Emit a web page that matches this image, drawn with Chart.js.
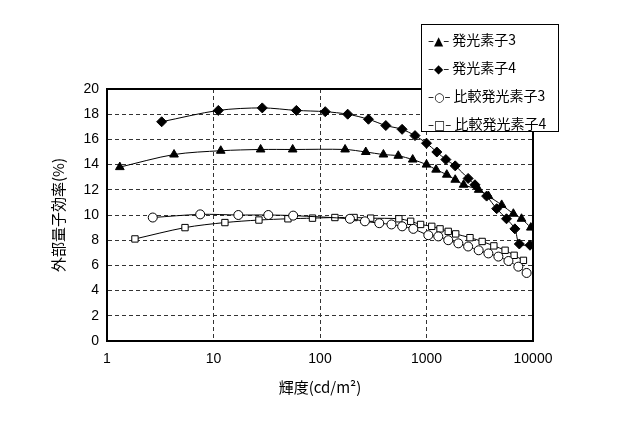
<!DOCTYPE html><html><head><meta charset="utf-8">
<script src="https://cdn.jsdelivr.net/npm/chart.js@4"></script>
<style>body{margin:0;background:#fff}#w{position:relative;width:640px;height:430px}
#lg{position:absolute;left:421px;top:24px;width:138px;height:108px;border:1px solid #000;background:#fff;font:14px "Noto Sans CJK JP";box-sizing:border-box;padding:1px 0 0 6px;line-height:26px;white-space:nowrap}
#lg span{font-family:"DejaVu Sans";font-size:12px}
</style></head><body><div id="w"><canvas id="c" width="640" height="430"></canvas>
<div id="lg"><div><span>–▲–</span> 発光素子3</div><div><span>–◆–</span> 発光素子4</div><div><span>–○–</span> 比較発光素子3</div><div><span>–□–</span> 比較発光素子4</div></div></div>
<script>
const seriesNames=["発光素子3","発光素子4","比較発光素子3","比較発光素子4"];
const x3=[1.32,4.26,11.7,27.7,55.4,172,269,394,543,742,1000,1230,1550,1860,2230,3090,3820,5080,6540,7800,9540];
const y3=[13.8,14.8,15.1,15.2,15.2,15.2,15.0,14.8,14.7,14.4,14.0,13.6,13.2,12.8,12.4,12.0,11.5,10.8,10.1,9.7,9.0];
const x4=[3.26,11.1,28.7,60,112,182,285,415,590,780,1000,1250,1520,1860,2460,2850,3670,4560,5640,6760,7440,9370];
const y4=[17.4,18.3,18.5,18.3,18.2,18.0,17.6,17.1,16.8,16.3,15.7,15.0,14.4,13.9,12.9,12.4,11.5,10.5,9.7,8.9,7.7,7.6];
const xc3=[2.69,7.5,17.1,32.7,56,191,264,360,469,591,752,1040,1290,1600,1990,2460,3090,3810,4730,5880,7280,8710];
const yc3=[9.8,10.05,10.0,10.0,9.95,9.7,9.5,9.35,9.25,9.1,8.9,8.4,8.3,8.0,7.75,7.5,7.2,6.95,6.7,6.35,5.9,5.4];
const xc4=[1.83,5.4,12.8,26.7,50,85,138,209,299,550,710,880,1120,1340,1600,1880,2560,3330,4290,5470,6650,8130];
const yc4=[8.1,9.0,9.4,9.6,9.7,9.75,9.8,9.8,9.75,9.7,9.5,9.25,9.1,8.9,8.7,8.5,8.2,7.9,7.55,7.2,6.8,6.4];
const yTicks=[0,2,4,6,8,10,12,14,16,18,20];
const xTicks=[1,10,100,1000,10000];
const pts=(xs,ys)=>xs.map((x,i)=>({x,y:ys[i]}));
const mk=(label,data,style,fill,r)=>({label,data,pointStyle:style,pointRadius:r,borderColor:'#000',borderWidth:1,pointBackgroundColor:fill,pointBorderColor:'#000',backgroundColor:fill,tension:0.3,showLine:true});
const grid={color:'#333',lineWidth:1,drawTicks:false};
const frame={id:'frame',afterDatasetsDraw(c){const a=c.chartArea,x=c.ctx;x.save();x.strokeStyle='#000';x.lineWidth=2;x.strokeRect(a.left,a.top,a.right-a.left,a.bottom-a.top);x.restore();}};
new Chart(document.getElementById('c'),{type:'scatter',plugins:[frame],data:{datasets:[
mk(seriesNames[0],pts(x3,y3),'triangle','#000',5),
mk(seriesNames[1],pts(x4,y4),'rectRot','#000',5),
mk(seriesNames[2],pts(xc3,yc3),'circle','#fff',4.5),
mk(seriesNames[3],pts(xc4,yc4),'rect','#fff',4.5)]},
options:{responsive:false,animation:false,layout:{padding:{left:45,right:107,top:89,bottom:30}},
plugins:{legend:{display:false},tooltip:{enabled:false}},
scales:{x:{type:'logarithmic',min:1,max:10000,afterBuildTicks:a=>{a.ticks=xTicks.map(v=>({value:v}))},afterFit:a=>{a.height=59},
grid:grid,border:{color:'#000',width:1,dash:[4,3]},ticks:{color:'#000',font:{size:14,family:'Liberation Sans'},padding:10,callback:v=>String(v),maxRotation:0},
title:{display:true,text:'輝度(cd/m²)',color:'#000',font:{size:15,family:'Noto Sans CJK JP'},padding:{top:0}}},
y:{min:0,max:20,afterBuildTicks:a=>{a.ticks=yTicks.map(v=>({value:v}))},afterFit:a=>{a.width=62},
grid:grid,border:{color:'#000',width:1,dash:[4,3]},ticks:{color:'#000',font:{size:14,family:'Liberation Sans'},padding:8},
title:{display:true,text:'外部量子効率(%)',color:'#000',font:{size:15,family:'Noto Sans CJK JP'},padding:{bottom:2}}}}}});
</script></body></html>
